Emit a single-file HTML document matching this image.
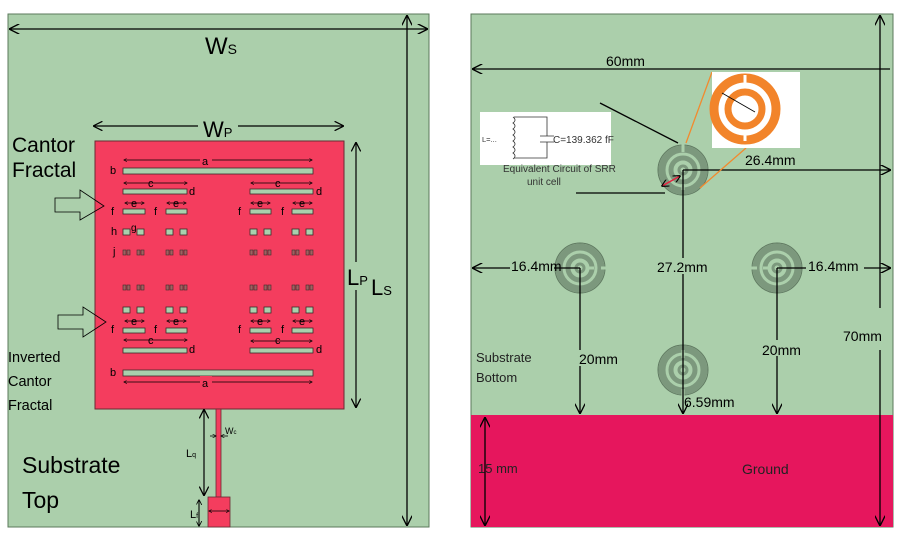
<!DOCTYPE html>
<html><head><meta charset="utf-8"><style>
html,body{margin:0;padding:0;background:#fff}
svg{display:block}
text{font-family:"Liberation Sans",sans-serif}
</style></head><body>
<svg width="900" height="540" viewBox="0 0 900 540" xmlns="http://www.w3.org/2000/svg">
<defs>
<marker id="a" viewBox="0 0 10 10" refX="9" refY="5" markerWidth="8" markerHeight="8" orient="auto-start-reverse"><path d="M0,0 L10,5 L0,10" fill="none" stroke="#000" stroke-width="1.3"/></marker>
<marker id="s" viewBox="0 0 10 10" refX="9" refY="5" markerWidth="5" markerHeight="5" orient="auto-start-reverse"><path d="M0,0 L10,5 L0,10" fill="none" stroke="#000" stroke-width="1.5"/></marker>
</defs>
<!-- LEFT PANEL -->
<rect x="8" y="14" width="421" height="513" fill="#abcfab" stroke="#5b7a5b" stroke-width="1"/>
<line x1="10" y1="29" x2="427" y2="29" stroke="#000" stroke-width="1.3" marker-start="url(#a)" marker-end="url(#a)"/>
<text x="205" y="54" font-size="24">W<tspan font-size="14">S</tspan></text>
<line x1="407" y1="16" x2="407" y2="525" stroke="#000" stroke-width="1.3" marker-start="url(#a)" marker-end="url(#a)"/>
<!-- patch -->
<rect x="95" y="141" width="249" height="268" fill="#f43d5e" stroke="#6a2a33" stroke-width="1"/>
<rect x="216" y="409" width="5" height="88" fill="#f43d5e" stroke="#6a2a33" stroke-width="0.8"/>
<rect x="208" y="497" width="22" height="30" fill="#f43d5e" stroke="#6a2a33" stroke-width="0.8"/>
<line x1="94" y1="126" x2="343" y2="126" stroke="#000" stroke-width="1.2" marker-start="url(#a)" marker-end="url(#a)"/>
<rect x="198" y="113" width="40" height="20" fill="#abcfab"/>
<text x="203" y="137" font-size="22">W<tspan font-size="13">P</tspan></text>
<line x1="356" y1="143" x2="356" y2="407" stroke="#000" stroke-width="1.2" marker-start="url(#a)" marker-end="url(#a)"/>
<rect x="346" y="262" width="24" height="28" fill="#abcfab"/>
<text x="347" y="285" font-size="22">L<tspan font-size="13">P</tspan></text>
<text x="371" y="295" font-size="22">L<tspan font-size="13">S</tspan></text>
<!-- slots -->
<g fill="#a9d0ad" stroke="#3d2a2a" stroke-width="0.8">
<rect x="123" y="168" width="190" height="6"/>
<rect x="123" y="370" width="190" height="6"/>
<rect x="123" y="189" width="64" height="5"/><rect x="250" y="189" width="63" height="5"/>
<rect x="123" y="348" width="64" height="5"/><rect x="250" y="348" width="63" height="5"/>
<rect x="123" y="209" width="22" height="5"/><rect x="166" y="209" width="21" height="5"/><rect x="250" y="209" width="21" height="5"/><rect x="292" y="209" width="21" height="5"/>
<rect x="123" y="328" width="22" height="5"/><rect x="166" y="328" width="21" height="5"/><rect x="250" y="328" width="21" height="5"/><rect x="292" y="328" width="21" height="5"/>
<rect x="123" y="229" width="7" height="6"/><rect x="137" y="229" width="7" height="6"/><rect x="166" y="229" width="7" height="6"/><rect x="180" y="229" width="7" height="6"/>
<rect x="250" y="229" width="7" height="6"/><rect x="264" y="229" width="7" height="6"/><rect x="292" y="229" width="7" height="6"/><rect x="306" y="229" width="7" height="6"/>
<rect x="123" y="307" width="7" height="6"/><rect x="137" y="307" width="7" height="6"/><rect x="166" y="307" width="7" height="6"/><rect x="180" y="307" width="7" height="6"/>
<rect x="250" y="307" width="7" height="6"/><rect x="264" y="307" width="7" height="6"/><rect x="292" y="307" width="7" height="6"/><rect x="306" y="307" width="7" height="6"/>
</g>
<g fill="#a06060" stroke="#3d2a2a" stroke-width="0.6">
<rect x="123" y="250" width="3" height="5"/><rect x="127" y="250" width="3" height="5"/><rect x="137" y="250" width="3" height="5"/><rect x="141" y="250" width="3" height="5"/>
<rect x="166" y="250" width="3" height="5"/><rect x="170" y="250" width="3" height="5"/><rect x="180" y="250" width="3" height="5"/><rect x="184" y="250" width="3" height="5"/>
<rect x="250" y="250" width="3" height="5"/><rect x="254" y="250" width="3" height="5"/><rect x="264" y="250" width="3" height="5"/><rect x="268" y="250" width="3" height="5"/>
<rect x="292" y="250" width="3" height="5"/><rect x="296" y="250" width="3" height="5"/><rect x="306" y="250" width="3" height="5"/><rect x="310" y="250" width="3" height="5"/>
<rect x="123" y="285" width="3" height="5"/><rect x="127" y="285" width="3" height="5"/><rect x="137" y="285" width="3" height="5"/><rect x="141" y="285" width="3" height="5"/>
<rect x="166" y="285" width="3" height="5"/><rect x="170" y="285" width="3" height="5"/><rect x="180" y="285" width="3" height="5"/><rect x="184" y="285" width="3" height="5"/>
<rect x="250" y="285" width="3" height="5"/><rect x="254" y="285" width="3" height="5"/><rect x="264" y="285" width="3" height="5"/><rect x="268" y="285" width="3" height="5"/>
<rect x="292" y="285" width="3" height="5"/><rect x="296" y="285" width="3" height="5"/><rect x="306" y="285" width="3" height="5"/><rect x="310" y="285" width="3" height="5"/>
</g>
<!-- patch dimension labels -->
<g stroke="#000" stroke-width="0.7" fill="none">
<line x1="124" y1="160" x2="312" y2="160" marker-start="url(#s)" marker-end="url(#s)"/>
<line x1="124" y1="382" x2="312" y2="382" marker-start="url(#s)" marker-end="url(#s)"/>
<line x1="124" y1="183" x2="187" y2="183" marker-start="url(#s)" marker-end="url(#s)"/>
<line x1="251" y1="183" x2="312" y2="183" marker-start="url(#s)" marker-end="url(#s)"/>
<line x1="124" y1="340" x2="187" y2="340" marker-start="url(#s)" marker-end="url(#s)"/>
<line x1="251" y1="341" x2="312" y2="341" marker-start="url(#s)" marker-end="url(#s)"/>
<line x1="125" y1="203" x2="144" y2="203" marker-start="url(#s)" marker-end="url(#s)"/>
<line x1="167" y1="203" x2="186" y2="203" marker-start="url(#s)" marker-end="url(#s)"/>
<line x1="251" y1="203" x2="270" y2="203" marker-start="url(#s)" marker-end="url(#s)"/>
<line x1="293" y1="203" x2="312" y2="203" marker-start="url(#s)" marker-end="url(#s)"/>
<line x1="125" y1="321" x2="144" y2="321" marker-start="url(#s)" marker-end="url(#s)"/>
<line x1="167" y1="321" x2="186" y2="321" marker-start="url(#s)" marker-end="url(#s)"/>
<line x1="251" y1="321" x2="270" y2="321" marker-start="url(#s)" marker-end="url(#s)"/>
<line x1="293" y1="321" x2="312" y2="321" marker-start="url(#s)" marker-end="url(#s)"/>
</g>
<g font-size="11" fill="#000">
<rect x="200" y="154" width="12" height="12" fill="#f43d5e"/><text x="202" y="165">a</text>
<rect x="200" y="376" width="12" height="12" fill="#f43d5e"/><text x="202" y="387">a</text>
<text x="148" y="187">c</text><text x="275" y="187">c</text>
<text x="148" y="344">c</text><text x="275" y="344">c</text>
<text x="189" y="195">d</text><text x="316" y="195">d</text>
<text x="189" y="353">d</text><text x="316" y="353">d</text>
<text x="131" y="207">e</text><text x="173" y="207">e</text><text x="257" y="207">e</text><text x="299" y="207">e</text>
<text x="131" y="325">e</text><text x="173" y="325">e</text><text x="257" y="325">e</text><text x="299" y="325">e</text>
<text x="110" y="174">b</text><text x="110" y="376">b</text>
<text x="111" y="215">f</text><text x="154" y="215">f</text><text x="238" y="215">f</text><text x="281" y="215">f</text>
<text x="111" y="333">f</text><text x="154" y="333">f</text><text x="238" y="333">f</text><text x="281" y="333">f</text>
<text x="111" y="235">h</text><text x="131" y="231" font-size="10">g</text><text x="113" y="255">j</text>
</g>
<!-- feed dims -->
<line x1="204" y1="410" x2="204" y2="495" stroke="#000" stroke-width="1.2" marker-start="url(#a)" marker-end="url(#a)"/>
<rect x="184" y="444" width="14" height="16" fill="#abcfab"/>
<text x="186" y="457" font-size="11">L<tspan font-size="7">q</tspan></text>
<line x1="199" y1="500" x2="199" y2="526" stroke="#000" stroke-width="1.1" marker-start="url(#s)" marker-end="url(#s)"/>
<text x="190" y="518" font-size="11">L<tspan font-size="7">f</tspan></text>
<line x1="210" y1="436" x2="216" y2="436" stroke="#000" stroke-width="0.8" marker-end="url(#s)"/>
<line x1="228" y1="436" x2="221" y2="436" stroke="#000" stroke-width="0.8" marker-end="url(#s)"/>
<text x="225" y="434" font-size="9">W<tspan font-size="6">c</tspan></text>
<line x1="209" y1="511" x2="229" y2="511" stroke="#000" stroke-width="0.7" marker-start="url(#s)" marker-end="url(#s)"/>
<!-- left texts -->
<text x="12" y="152" font-size="21">Cantor</text>
<text x="12" y="177" font-size="21">Fractal</text>
<path d="M55,198 L80,198 L80,190 L104,206 L80,220 L80,212 L55,212 Z" fill="none" stroke="#000" stroke-width="0.8"/>
<path d="M58,315 L83,315 L83,307 L106,322 L83,337 L83,329 L58,329 Z" fill="none" stroke="#000" stroke-width="0.8"/>
<text x="8" y="362" font-size="14.5">Inverted</text>
<text x="8" y="386" font-size="14.5">Cantor</text>
<text x="8" y="410" font-size="14.5">Fractal</text>
<text x="22" y="473" font-size="23">Substrate</text>
<text x="22" y="508" font-size="23">Top</text>

<!-- RIGHT PANEL -->
<rect x="471" y="14" width="422" height="513" fill="#abcfab" stroke="#5b7a5b" stroke-width="1"/>
<rect x="471" y="415" width="422" height="112" fill="#e6165d"/>
<text x="742" y="474" font-size="14" fill="#222">Ground</text>
<line x1="485" y1="418" x2="485" y2="525" stroke="#000" stroke-width="1.3" marker-start="url(#a)" marker-end="url(#a)"/>
<text x="478" y="473" font-size="13" fill="#222">15 mm</text>
<line x1="473" y1="69" x2="890" y2="69" stroke="#000" stroke-width="1.3" marker-start="url(#a)"/>
<text x="606" y="66" font-size="14">60mm</text>
<line x1="880" y1="16" x2="880" y2="308" stroke="#000" stroke-width="1.3" marker-start="url(#a)"/>
<line x1="880" y1="350" x2="880" y2="525" stroke="#000" stroke-width="1.3" marker-end="url(#a)"/>
<text x="843" y="341" font-size="14">70mm</text>
<!-- SRRs -->
<g fill="none" stroke="#5f7860" stroke-width="1">
<circle cx="683" cy="170" r="25"/><circle cx="580" cy="268" r="25"/><circle cx="777" cy="268" r="25"/><circle cx="683" cy="370" r="25"/>
</g>
<g fill="none" stroke="#7c987d">
<g transform="translate(683,170)"><circle r="21" stroke-width="7"/><circle r="12" stroke-width="5"/><circle r="4" stroke-width="3"/></g>
<g transform="translate(580,268)"><circle r="21" stroke-width="7"/><circle r="12" stroke-width="5"/><circle r="4" stroke-width="3"/></g>
<g transform="translate(777,268)"><circle r="21" stroke-width="7"/><circle r="12" stroke-width="5"/><circle r="4" stroke-width="3"/></g>
<g transform="translate(683,370)"><circle r="21" stroke-width="7"/><circle r="12" stroke-width="5"/><circle r="4" stroke-width="3"/></g>
</g>
<g stroke="#abcfab" stroke-width="3">
<line x1="683" y1="144" x2="683" y2="152"/><line x1="683" y1="184" x2="683" y2="190"/>
<line x1="601" y1="268" x2="607" y2="268"/><line x1="586" y1="268" x2="594" y2="268"/>
<line x1="750" y1="268" x2="757" y2="268"/><line x1="763" y1="268" x2="771" y2="268"/>
<line x1="683" y1="389" x2="683" y2="396"/><line x1="683" y1="350" x2="683" y2="358"/>
</g>
<!-- dims right -->
<g stroke="#000" stroke-width="1.3" fill="none">
<line x1="683" y1="170" x2="890" y2="170" marker-end="url(#a)"/>
<line x1="683" y1="170" x2="683" y2="413" marker-end="url(#a)"/>
<line x1="580" y1="268" x2="473" y2="268" marker-end="url(#a)"/>
<line x1="777" y1="268" x2="890" y2="268" marker-end="url(#a)"/>
<line x1="580" y1="268" x2="580" y2="413" marker-end="url(#a)"/>
<line x1="777" y1="268" x2="777" y2="413" marker-end="url(#a)"/>
<line x1="600" y1="103" x2="678" y2="143"/>
<line x1="576" y1="193" x2="665" y2="193"/>
</g>
<rect x="510" y="257" width="44" height="16" fill="#abcfab"/><text x="511" y="271" font-size="14">16.4mm</text>
<rect x="806" y="257" width="58" height="16" fill="#abcfab"/><text x="808" y="271" font-size="14">16.4mm</text>
<text x="745" y="165" font-size="14">26.4mm</text>
<rect x="655" y="258" width="56" height="16" fill="#abcfab"/><text x="657" y="272" font-size="14">27.2mm</text>
<rect x="578" y="350" width="44" height="16" fill="#abcfab"/><text x="579" y="364" font-size="14">20mm</text>
<rect x="760" y="340" width="44" height="16" fill="#abcfab"/><text x="762" y="355" font-size="14">20mm</text>
<text x="684" y="407" font-size="14">6.59mm</text>
<text x="476" y="362" font-size="13" fill="#222">Substrate</text>
<text x="476" y="382" font-size="13" fill="#222">Bottom</text>
<!-- circuit box -->
<rect x="480" y="112" width="131" height="53" fill="#fff"/>
<path d="M514,117 L547,117 L547,136 M547,142 L547,158 L514,158" fill="none" stroke="#333" stroke-width="0.8"/>
<path d="M540,136 L554,136 M540,142 L554,142" stroke="#333" stroke-width="0.8"/>
<path d="M513,117 q4,3 0,6 q4,3 0,6 q4,3 0,6 q4,3 0,6 q4,3 0,6 q4,3 0,6 q4,3 0,6" fill="none" stroke="#333" stroke-width="0.8"/>
<text x="482" y="142" font-size="7.5" fill="#333">L=...</text>
<text x="553" y="143" font-size="10" fill="#333">C=139.362 fF</text>
<text x="503" y="172" font-size="10" fill="#333">Equivalent Circuit of SRR</text>
<text x="527" y="185" font-size="10" fill="#333">unit cell</text>
<!-- inset -->
<line x1="686" y1="143" x2="712" y2="72" stroke="#f28a2e" stroke-width="1.3"/>
<line x1="700" y1="188" x2="746" y2="148" stroke="#f28a2e" stroke-width="1.3"/>
<rect x="712" y="72" width="88" height="76" fill="#fff"/>
<g fill="none" stroke="#f2842a">
<circle cx="745" cy="109" r="31" stroke-width="9"/>
<circle cx="745" cy="109" r="17" stroke-width="7"/>
</g>
<line x1="745" y1="75" x2="745" y2="83" stroke="#fff" stroke-width="3"/>
<line x1="745" y1="133" x2="745" y2="141" stroke="#fff" stroke-width="3"/>
<line x1="722" y1="93" x2="755" y2="112" stroke="#000" stroke-width="0.8"/>
<line x1="662" y1="186" x2="680" y2="176" stroke="#e8213f" stroke-width="1.5" marker-start="url(#s)" marker-end="url(#s)"/>
</svg>
</body></html>
